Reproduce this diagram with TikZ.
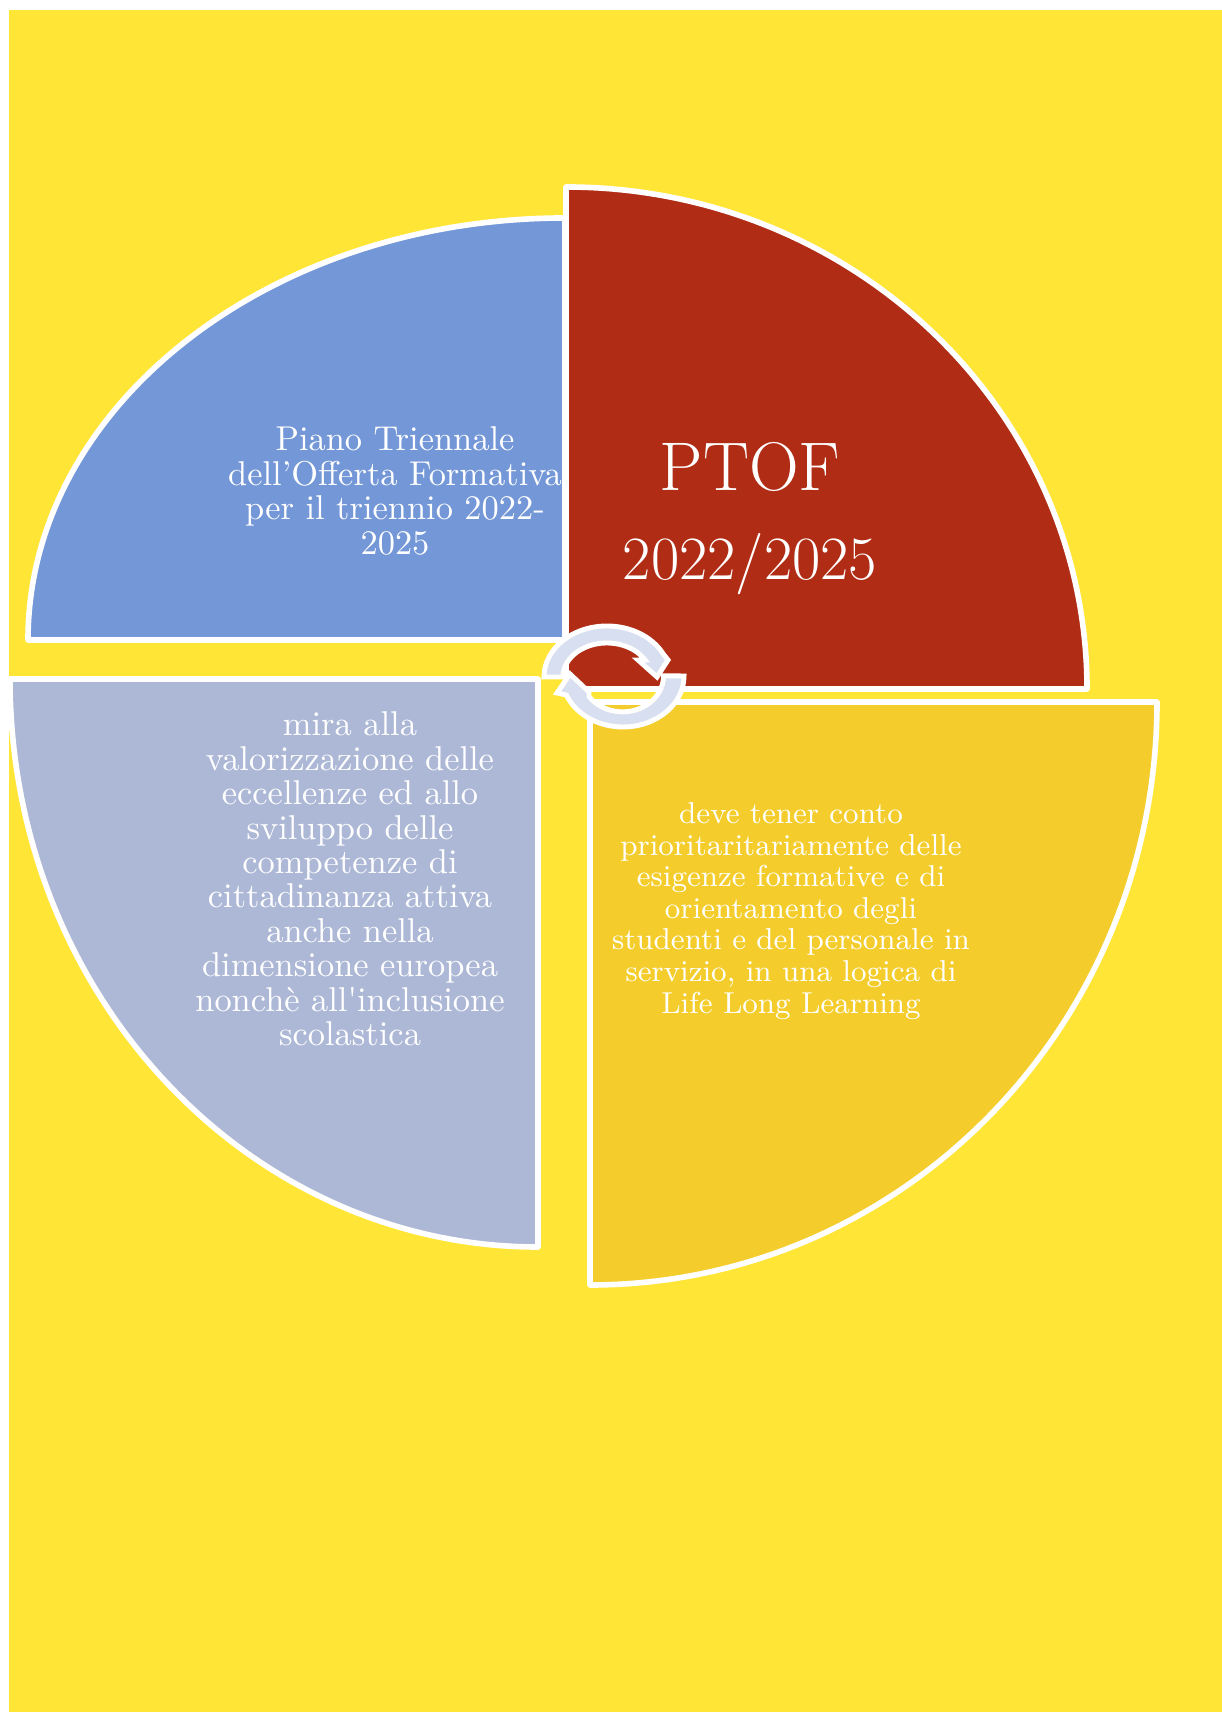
\documentclass[tikz,border=0pt]{standalone}
\definecolor{pagebg}{RGB}{255,229,54}
\definecolor{secblue}{RGB}{115,151,215}
\definecolor{secred}{RGB}{176,44,20}
\definecolor{secgold}{RGB}{244,205,44}
\definecolor{secgrey}{RGB}{173,184,214}
\definecolor{cycfill}{RGB}{216,223,240}
\tikzset{
    sector/.style={draw=white, line width=1.6pt, line join=round},
    cycarrow/.style={draw=white, fill=cycfill, line width=1.4pt, line join=miter},
    lbl/.style={text=white, align=center, inner sep=0pt, font=\fontsize{9.8}{9.8}\selectfont},
}
\begin{document}
\begin{tikzpicture}
    \useasboundingbox (0, 0) rectangle (12.22, 17.12);
    \fill[pagebg] (0.09, 0) rectangle (12.22, 17.02);

    % the four sectors
    \filldraw[sector, fill=secblue] (5.65, 10.72) -- (0.28, 10.72)
        arc[start angle=180, end angle=90, x radius=5.37, y radius=4.22] -- cycle;
    \filldraw[sector, fill=secred] (5.66, 10.23) -- (5.66, 15.25)
        arc[start angle=90, end angle=0, x radius=5.21, y radius=5.02] -- cycle;
    \filldraw[sector, fill=secgrey] (5.38, 10.33) -- (5.38, 4.65)
        arc[start angle=270, end angle=180, x radius=5.28, y radius=5.68] -- cycle;
    \filldraw[sector, fill=secgold] (5.90, 10.10) -- (11.57, 10.10)
        arc[start angle=0, end angle=-90, x radius=5.67, y radius=5.83] -- cycle;

    % the two arrows in the middle
    \filldraw[cycarrow] (5.44, 10.35)
        arc[start angle=180, end angle=27, x radius=0.63, y radius=0.51]
        -- (6.68, 10.52) -- (6.57, 10.35) -- (6.38, 10.52) -- (6.45, 10.52)
        arc[start angle=30, end angle=180, x radius=0.44, y radius=0.34] -- cycle;
    \filldraw[cycarrow] (6.84, 10.36)
        arc[start angle=0, end angle=-158, x radius=0.61, y radius=0.51]
        -- (5.57, 10.19) -- (5.70, 10.38) -- (5.89, 10.20) -- (5.89, 10.155)
        arc[start angle=-145, end angle=0, x radius=0.41, y radius=0.36] -- cycle;

    \node[lbl] (txtblue) at (3.95, 12.21) {Piano Triennale\\dell'Offerta Formativa\\per il triennio 2022-\\2025};
    \node[lbl, font=\fontsize{19.6}{20}\selectfont] (txtptof) at (7.50, 12.45) {PTOF};
    \node[lbl, font=\fontsize{17.5}{18}\selectfont] (txtyears) at (7.50, 11.48) {2022/2025};
    \node[lbl] (txtgrey) at (3.50, 8.33) {mira alla\\valorizzazione delle\\eccellenze ed allo\\sviluppo delle\\competenze di\\cittadinanza attiva\\anche nella\\dimensione europea\\nonchè all\textquotesingle inclusione\\scolastica};
    \node[lbl, font=\fontsize{8.6}{9}\selectfont] (txtgold) at (7.91, 8.01) {deve tener conto\\prioritaritariamente delle\\esigenze formative e di\\orientamento degli\\studenti e del personale in\\servizio, in una logica di\\Life Long Learning};
\end{tikzpicture}
\end{document}
